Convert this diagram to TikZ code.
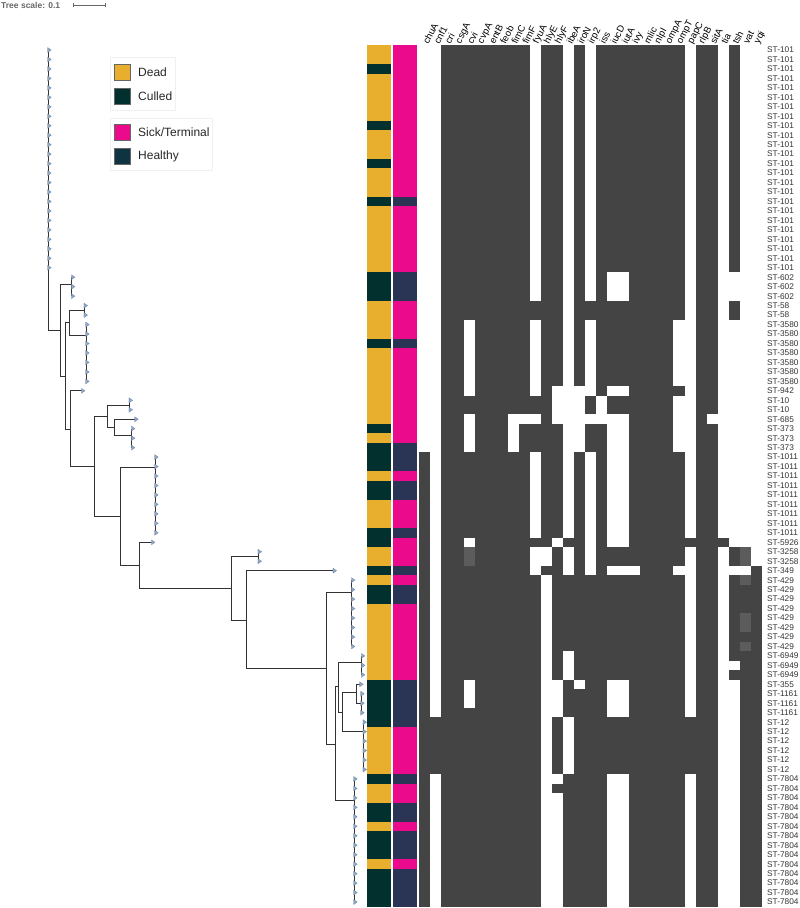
\documentclass[tikz,border=0pt]{standalone}
\usepackage{fontspec}
\setmainfont{Liberation Sans}
\usetikzlibrary{shapes.geometric}
\definecolor{dead}{HTML}{E8AE2E}
\definecolor{culled}{HTML}{02302E}
\definecolor{sick}{HTML}{EB0A8C}
\definecolor{healthy}{HTML}{2A3556}
\definecolor{healthykey}{HTML}{0F3441}
\definecolor{hmdark}{HTML}{444444}
\definecolor{hmlight}{HTML}{5C5C5C}
\definecolor{tipblue}{HTML}{8DA8C8}
\definecolor{branch}{HTML}{333333}
\tikzstyle{br}=[draw=branch,line width=1pt]
\tikzstyle{leaf}=[isosceles triangle,isosceles triangle apex angle=70,fill=tipblue,
  draw=tipblue!70!black,line width=0.2pt,inner sep=0pt,minimum height=3.6pt,minimum width=3.6pt]
\tikzstyle{hm}=[fill=hmdark]
\tikzstyle{hml}=[fill=hmlight]
\tikzstyle{stlab}=[anchor=west,inner sep=0pt,font=\fontsize{8.3}{9}\selectfont,text=black!80]
\tikzstyle{genelab}=[anchor=west,rotate=62,inner sep=1pt,font=\fontsize{9.5}{10}\selectfont]
\tikzstyle{keytext}=[anchor=west,inner sep=0pt,font=\fontsize{12}{14}\selectfont,text=black!85]
\tikzstyle{keybox}=[draw=black!60,line width=0.4pt,minimum size=15.5pt,inner sep=0pt]
\tikzstyle{keyframe}=[draw=black!6,line width=0.6pt]
\newcommand{\hmx}{419.3}
\newcommand{\hmy}{45.27}
\newcommand{\colw}{11.05}
\newcommand{\rowh}{9.467}
\newcommand{\hmrows}[4][hm]{\foreach \a/\b in {#4}{\fill[#1] ({\hmx+\colw*\a},{-(\hmy+\rowh*#2)})
  rectangle ({\hmx+\colw*(\b+1)},{-(\hmy+\rowh*(#3+1))});}}
\newcommand{\annrows}[3]{\foreach \a/\b in {#3}{\fill[#2] (#1,{-(\hmy+\rowh*\a)})
  rectangle ++(24,{-\rowh*(\b-\a+1)});}}

\begin{document}
\begin{tikzpicture}[x=1pt,y=1pt]
		\useasboundingbox (0,0) rectangle (800,-908);
		\node [anchor=west,inner sep=0pt,font=\bfseries\fontsize{8.5}{9}\selectfont,text=black!60] (scale) at (1,-5) {Tree scale: 0.1};
		\coordinate (sa) at (73,-5);
		\coordinate (sb) at (105,-5);
		\draw [black!60,line width=0.6pt] (sa) -- (sb);
		\draw [black!60,line width=0.6pt] ([yshift=2pt]sa) -- ([yshift=-2pt]sa);
		\draw [black!60,line width=0.6pt] ([yshift=2pt]sb) -- ([yshift=-2pt]sb);
		\draw [black!60,line width=0.6pt] ([xshift=16pt]sa) -- ([xshift=16pt,yshift=-1.2pt]sa);

		\draw [style=keyframe] (110,-57.3) rectangle (175.7,-110);
		\node [style=keybox,fill=dead] (kdead) at (122,-72) {};
		\node [style=keytext] (ldead) at (138,-72) {Dead};
		\node [style=keybox,fill=culled] (kculled) at (122,-96) {};
		\node [style=keytext] (lculled) at (138,-96) {Culled};
		\draw [style=keyframe] (110,-118.3) rectangle (212.3,-170.7);
		\node [style=keybox,fill=sick] (ksick) at (122,-132) {};
		\node [style=keytext] (lsick) at (138,-132) {Sick/Terminal};
		\node [style=keybox,fill=healthykey] (khealthy) at (122,-156) {};
		\node [style=keytext] (lhealthy) at (138,-156) {Healthy};

		\foreach \a/\b/\x in {0/23/48,24/26/71.7,27/28/84.3,29/35/86,36/36/81.7,37/38/129.3,39/39/135,
		  40/42/131.7,43/51/155,52/52/151.7,53/54/258.3,55/55/333.3,56/63/351.7,64/66/361.7,67/67/360,
		  68/70/361,71/76/363.3,77/90/354}
		  {\foreach \r in {\a,...,\b} {\coordinate (t\r) at (\x,{-(50+\rowh*\r)});}}
		\coordinate (root) at (48,-330);
		\coordinate (nB) at (60,-330);
		\coordinate (c602) at (71.7,-284);
		\coordinate (nC) at (65,-376);
		\coordinate (nD) at (69.3,-322.7);
		\coordinate (c58) at (84.3,-310);
		\coordinate (c3580) at (86,-335);
		\coordinate (nE) at (70.7,-429);
		\coordinate (nF) at (94,-466.7);
		\coordinate (nG) at (107.3,-416);
		\coordinate (c10) at (129.3,-405);
		\coordinate (nH) at (114,-427.3);
		\coordinate (c373) at (131.7,-435.7);
		\coordinate (nI) at (120.7,-516.7);
		\coordinate (c1011) at (155,-467.7);
		\coordinate (nJ) at (139.3,-565.7);
		\coordinate (nK) at (231.7,-588.3);
		\coordinate (c3258) at (258.3,-556);
		\coordinate (nL) at (246.7,-620);
		\coordinate (nM) at (326,-668.3);
		\coordinate (c429) at (351.7,-592.3);
		\coordinate (nN) at (335,-744);
		\coordinate (nO) at (338.3,-686);
		\coordinate (c6949) at (361.7,-662.7);
		\coordinate (nP) at (342.7,-712.7);
		\coordinate (nQ) at (356.7,-692.3);
		\coordinate (c1161) at (361,-703.3);
		\coordinate (c12) at (363.3,-731.7);
		\coordinate (c7804) at (354,-800.7);
		\draw [style=br] (root) -- (nB);
		\draw [style=br] (nB) |- (c602);
		\draw [style=br] (nB) |- (nC);
		\draw [style=br] (nC) |- (nD);
		\draw [style=br] (nC) |- (nE);
		\draw [style=br] (nD) |- (c58);
		\draw [style=br] (nD) |- (c3580);
		\draw [style=br] (nE) |- (t36);
		\draw [style=br] (nE) |- (nF);
		\draw [style=br] (nF) |- (nG);
		\draw [style=br] (nF) |- (nI);
		\draw [style=br] (nG) |- (c10);
		\draw [style=br] (nG) |- (nH);
		\draw [style=br] (nH) |- (t39);
		\draw [style=br] (nH) |- (c373);
		\draw [style=br] (nI) |- (c1011);
		\draw [style=br] (nI) |- (nJ);
		\draw [style=br] (nJ) |- (t52);
		\draw [style=br] (nJ) |- (nK);
		\draw [style=br] (nK) |- (c3258);
		\draw [style=br] (nK) |- (nL);
		\draw [style=br] (nL) |- (t55);
		\draw [style=br] (nL) |- (nM);
		\draw [style=br] (nM) |- (c429);
		\draw [style=br] (nM) |- (nN);
		\draw [style=br] (nN) |- (nO);
		\draw [style=br] (nN) |- (c7804);
		\draw [style=br] (nO) |- (c6949);
		\draw [style=br] (nO) |- (nP);
		\draw [style=br] (nP) |- (nQ);
		\draw [style=br] (nP) |- (c12);
		\draw [style=br] (nQ) |- (t67);
		\draw [style=br] (nQ) |- (c1161);
		\foreach \c/\a/\b in {root/0/23,c602/24/26,c58/27/28,c3580/29/35,c10/37/38,c373/40/42,c1011/43/51,
		  c3258/53/54,c429/56/63,c6949/64/66,c1161/68/70,c12/71/76,c7804/77/90}
		  {\draw [style=br] (\c) -- (t\a); \draw [style=br] (\c) -- (t\b);}
		\foreach \r in {0,...,90} {\node [style=leaf] (m\r) at ([xshift=1pt]t\r) {};}

		\fill [dead] (367,{-\hmy}) rectangle (391,{-(\hmy+91*\rowh)});
		\fill [sick] (393,{-\hmy}) rectangle (417,{-(\hmy+91*\rowh)});
		\annrows{367}{culled}{2/2,8/8,12/12,16/16,24/26,31/31,40/40,42/44,46/47,51/52,55/55,57/58,67/71,77/77,80/81,83/85,87/90}
		\annrows{393}{healthy}{16/16,24/26,31/31,42/44,46/47,51/51,55/55,57/58,67/71,77/77,80/81,83/85,87/90}

		\hmrows{0}{23}{2/9,11/12,14/14,16/23,25/26,28/28}
		\hmrows{24}{26}{2/9,11/12,14/14,16/16,19/23,25/26}
		\hmrows{27}{28}{2/12,14/23,25/26,28/28}
		\hmrows{29}{35}{2/3,5/9,11/12,14/14,16/22,25/26}
		\hmrows{36}{36}{2/3,5/9,11/11,16/16,19/23,25/26}
		\hmrows{37}{38}{2/11,15/15,17/22,25/26}
		\hmrows{39}{39}{2/3,5/7,11/11,19/22,25/25}
		\hmrows{40}{42}{2/3,5/7,9/12,15/16,19/22,25/26}
		\hmrows{43}{51}{0/0,2/9,11/12,14/14,16/16,19/23,25/26}
		\hmrows{52}{52}{0/0,2/3,5/11,13/14,16/16,19/27}
		\hmrows{53}{54}{0/0,2/3,5/9,12/12,14/14,16/23,25/26,28/28}
		\hmrows[hml]{53}{54}{4/4,29/29}
		\hmrows{55}{55}{0/0,2/9,11/12,14/14,16/16,20/22,25/26,30/30}
		\hmrows{56}{63}{0/0,2/10,12/23,25/26,28/30}
		\hmrows[hml]{56}{56}{29/29}
		\hmrows[hml]{60}{61}{29/29}
		\hmrows[hml]{63}{63}{29/29}
		\hmrows{64}{66}{0/0,2/10,12/12,14/23,25/26,29/30}
		\hmrows{64}{64}{28/28}
		\hmrows{66}{66}{28/28}
		\hmrows{67}{67}{0/0,2/3,5/10,13/13,15/16,19/23,25/26,29/30}
		\hmrows{68}{69}{0/0,2/3,5/10,13/16,19/23,25/26,29/30}
		\hmrows{70}{70}{0/0,2/10,13/16,19/23,25/26,29/30}
		\hmrows{71}{76}{0/10,12/12,14/26,29/30}
		\hmrows{77}{90}{0/0,2/10,13/16,19/23,25/26,29/30}
		\hmrows{78}{78}{12/12}

		\foreach \g [count=\k from 0] in {chuA,cnf1,cri,csgA,cvi,cvpA,entB,feob,fimC,fimF,fyuA,hlyE,hlyF,ibeA,
		  iroN,irp2,iss,iucD,iutA,ivy,mlic,nlpI,ompA,ompT,papC,rlpB,sitA,tia,tsh,vat,yqi}
		  {\node [style=genelab] (g\k) at ({\hmx+\colw*(\k+0.5)},-44) {\g};}
		\foreach \a/\b/\lab in {0/23/ST-101,24/26/ST-602,27/28/ST-58,29/35/ST-3580,36/36/ST-942,37/38/ST-10,
		  39/39/ST-685,40/42/ST-373,43/51/ST-1011,52/52/ST-5926,53/54/ST-3258,55/55/ST-349,56/63/ST-429,
		  64/66/ST-6949,67/67/ST-355,68/70/ST-1161,71/76/ST-12,77/90/ST-7804}
		  {\foreach \r in {\a,...,\b} {\node [style=stlab] (l\r) at (767,{-(50+\rowh*\r)}) {\lab};}}
\end{tikzpicture}
\end{document}
